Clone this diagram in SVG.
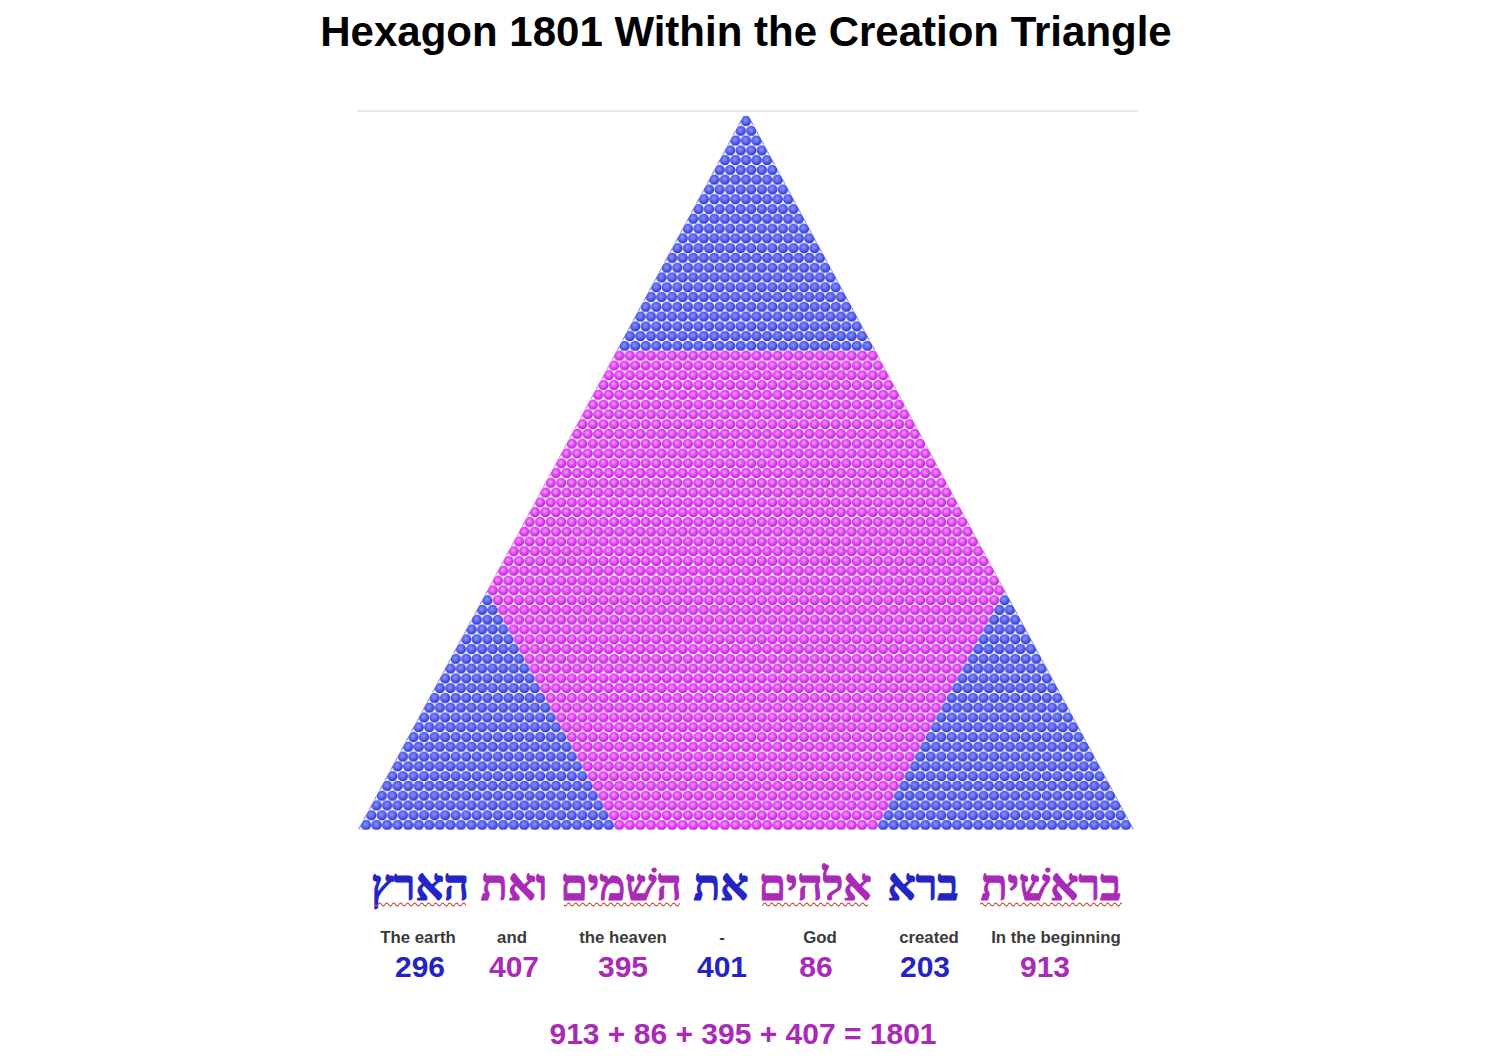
<svg xmlns="http://www.w3.org/2000/svg" width="1500" height="1062" viewBox="0 0 1500 1062">
<style>
.title{font-family:"Liberation Sans",Arial,sans-serif;font-weight:bold;font-size:42px;fill:#000;text-anchor:middle}
.heb{font-family:"Liberation Serif","DejaVu Serif",serif;font-weight:bold;font-size:44px;text-anchor:middle;stroke-width:1.1;stroke-linejoin:round}
.lbl{font-family:"Liberation Sans",Arial,sans-serif;font-weight:bold;font-size:16.8px;fill:#3a3a3a;text-anchor:middle}
.num{font-family:"Liberation Sans",Arial,sans-serif;font-weight:bold;font-size:30px;text-anchor:middle}
.blue{fill:#2424c4}
.mag{fill:#a82ab6}
.heb.blue{stroke:#2424c4}
.heb.mag{stroke:#a82ab6}
.bc{fill:url(#gBlue)}
.mc{fill:url(#gMag)}
</style>
<defs>
<radialGradient id="gBlue" cx="0.45" cy="0.42" r="0.55">
<stop offset="0" stop-color="#8a94ff"/>
<stop offset="0.55" stop-color="#5a64f0"/>
<stop offset="1" stop-color="#3038c8"/>
</radialGradient>
<radialGradient id="gMag" cx="0.45" cy="0.42" r="0.55">
<stop offset="0" stop-color="#fb9cff"/>
<stop offset="0.55" stop-color="#e448f6"/>
<stop offset="1" stop-color="#bc24d4"/>
</radialGradient>
<pattern id="pBlue" patternUnits="userSpaceOnUse" x="740.722" y="116.111" width="10.556" height="19.556">
<circle class="bc" cx="5.278" cy="4.889" r="5.2"/>
<circle class="bc" cx="5.278" cy="24.445" r="5.2"/>
<circle class="bc" cx="0" cy="14.667" r="5.2"/>
<circle class="bc" cx="10.556" cy="14.667" r="5.2"/>
<circle class="bc" cx="0" cy="-4.889" r="5.2"/>
<circle class="bc" cx="10.556" cy="-4.889" r="5.2"/>
</pattern>
<pattern id="pMag" patternUnits="userSpaceOnUse" x="740.722" y="116.111" width="10.556" height="19.556">
<circle class="mc" cx="5.278" cy="4.889" r="5.2"/>
<circle class="mc" cx="5.278" cy="24.445" r="5.2"/>
<circle class="mc" cx="0" cy="14.667" r="5.2"/>
<circle class="mc" cx="10.556" cy="14.667" r="5.2"/>
<circle class="mc" cx="0" cy="-4.889" r="5.2"/>
<circle class="mc" cx="10.556" cy="-4.889" r="5.2"/>
</pattern>
<pattern id="wave" patternUnits="userSpaceOnUse" x="0" y="901" width="7" height="7">
<path d="M0 3.5 Q1.75 0.6 3.5 3.5 T7 3.5" fill="none" stroke="#c8503c" stroke-width="1.2"/>
</pattern>
</defs>
<rect width="1500" height="1062" fill="#fff"/>
<g id="title"><text class="title" x="746" y="46">Hexagon 1801 Within the Creation Triangle</text></g>
<g id="rule"><line x1="357" y1="111" x2="1138" y2="111" stroke="#e2e2e2" stroke-width="1.5"/></g>
<g id="triangle">
<polygon id="top-triangle" fill="url(#pBlue)" points="743.36,115.8 748.64,115.8 875.49,350.78 616.51,350.78"/>
<polygon id="left-triangle" fill="url(#pBlue)" points="487.28,590.18 616.65,829.8 357.94,829.8"/>
<polygon id="right-triangle" fill="url(#pBlue)" points="1004.72,590.18 1134.06,829.8 875.35,829.8"/>
<polygon id="hexagon" fill="url(#pMag)" points="616.51,350.78 875.49,350.78 1004.72,590.18 875.35,829.8 616.65,829.8 487.28,590.18"/>
</g>
<g id="hebrew">
<text class="heb blue" x="420" y="900">הארץ</text>
<text class="heb mag" x="514" y="900">ואת</text>
<text class="heb mag" x="621" y="900">השׁמים</text>
<text class="heb blue" x="721" y="900">את</text>
<text class="heb mag" x="815" y="900">אלהים</text>
<text class="heb blue" x="923" y="900">ברא</text>
<text class="heb mag" x="1051" y="900">בראשׁית</text>
</g>
<g id="squiggles">
<rect x="374" y="901" width="92" height="7" fill="url(#wave)"/>
<rect x="564" y="901" width="116" height="7" fill="url(#wave)"/>
<rect x="762" y="901" width="106" height="7" fill="url(#wave)"/>
<rect x="980" y="901" width="142" height="7" fill="url(#wave)"/>
</g>
<g id="labels">
<text class="lbl" x="418" y="943">The earth</text>
<text class="lbl" x="512" y="943">and</text>
<text class="lbl" x="623" y="943">the heaven</text>
<text class="lbl" x="722" y="943">-</text>
<text class="lbl" x="820" y="943">God</text>
<text class="lbl" x="929" y="943">created</text>
<text class="lbl" x="1056" y="943">In the beginning</text>
</g>
<g id="numbers">
<text class="num blue" x="420" y="977">296</text>
<text class="num mag" x="514" y="977">407</text>
<text class="num mag" x="623" y="977">395</text>
<text class="num blue" x="722" y="977">401</text>
<text class="num mag" x="816" y="977">86</text>
<text class="num blue" x="925" y="977">203</text>
<text class="num mag" x="1045" y="977">913</text>
</g>
<g id="equation"><text class="num mag" x="743" y="1044" font-size="31">913 + 86 + 395 + 407 = 1801</text></g>
</svg>
